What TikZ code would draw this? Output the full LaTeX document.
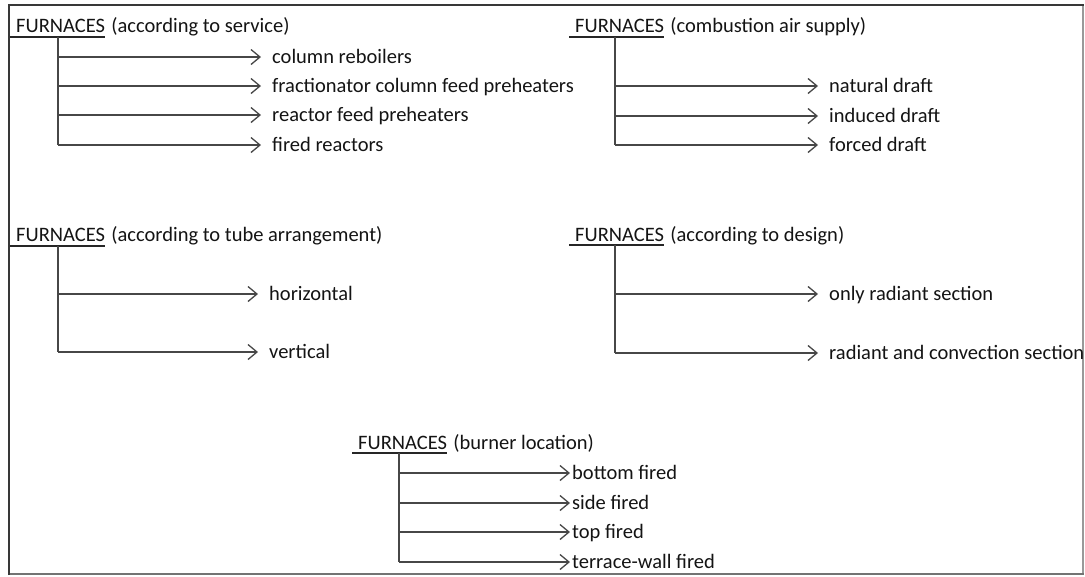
\documentclass[tikz,border=0pt]{standalone}
\usepackage{fontspec}
\setmainfont{Carlito}
\usetikzlibrary{arrows.meta,calc}
\begin{document}
\begin{tikzpicture}[x=1pt,y=-1pt,
  txt/.style={font=\fontsize{20.5}{24}\selectfont, text=black!92},
  head/.style={txt, anchor=base west, inner sep=0pt},
  item/.style={txt, anchor=west, inner ysep=0pt, inner xsep=11pt, text height=15pt, text depth=3pt},
  tight/.style={item, inner xsep=2pt},
  uline/.style={line width=1.5pt, black!85},
  stem/.style={line width=1.3pt, black!72},
  arr/.style={stem, -{Straight Barb[length=9pt,width=15pt,line width=1.3pt]}},
  edgeA/.style={line width=2pt, black!78},
  edgeB/.style={line width=1.6pt, black!40},
  edgeC/.style={line width=2pt, black!55}
]
\useasboundingbox (0,0) rectangle (1085,576);
\fill[white] (0,0) rectangle (1085,576);

% outer frame
\draw[edgeB] (1083,5) -- (1083,574);
\draw[edgeC] (9,574) -- (1084,574);
\draw[edgeA] (9,575) -- (9,5) -- (1084,5);

% classification according to service
\node[head] (h1) at (16,32) {FURNACES};
\node[head] (t1) at ($(h1.base east)+(6,0)$) {(according to service)};
\coordinate (s1) at (58,37);
\draw[uline] ($(h1.base west |- s1)+(-6,0)$) -- (h1.base east |- s1);
\node[item] (a1) at (261,57) {column reboilers};
\node[item] (a2) at (261,86) {fractionator column feed preheaters};
\node[item] (a3) at (261,115) {reactor feed preheaters};
\node[item] (a4) at (261,145) {fired reactors};
\draw[stem] (s1) -- (s1 |- a4.west);
\foreach \n in {a1,a2,a3,a4} \draw[arr] (s1 |- \n.west) -- (\n.west);

% classification by combustion air supply
\node[head] (h2) at (575,32) {FURNACES};
\node[head] (t2) at ($(h2.base east)+(6,0)$) {(combustion air supply)};
\coordinate (s2) at (615,37);
\draw[uline] ($(h2.base west |- s2)+(-6,0)$) -- (h2.base east |- s2);
\node[item] (b1) at (818,86) {natural draft};
\node[item] (b2) at (818,116) {induced draft};
\node[item] (b3) at (818,145) {forced draft};
\draw[stem] (s2) -- (s2 |- b3.west);
\foreach \n in {b1,b2,b3} \draw[arr] (s2 |- \n.west) -- (\n.west);

% classification according to tube arrangement
\node[head] (h3) at (16,241) {FURNACES};
\node[head] (t3) at ($(h3.base east)+(6,0)$) {(according to tube arrangement)};
\coordinate (s3) at (58,246);
\draw[uline] ($(h3.base west |- s3)+(-6,0)$) -- (h3.base east |- s3);
\node[item] (c1) at (258,294) {horizontal};
\node[item] (c2) at (258,352) {vertical};
\draw[stem] (s3) -- (s3 |- c2.west);
\foreach \n in {c1,c2} \draw[arr] (s3 |- \n.west) -- (\n.west);

% classification according to design
\node[head] (h4) at (575,241) {FURNACES};
\node[head] (t4) at ($(h4.base east)+(6,0)$) {(according to design)};
\coordinate (s4) at (615,245);
\draw[uline] ($(h4.base west |- s4)+(-6,0)$) -- (h4.base east |- s4);
\node[item] (d1) at (818,294) {only radiant section};
\node[item] (d2) at (818,353) {radiant and convection section};
\draw[stem] (s4) -- (s4 |- d2.west);
\foreach \n in {d1,d2} \draw[arr] (s4 |- \n.west) -- (\n.west);

% classification by burner location
\node[head] (h5) at (358,449) {FURNACES};
\node[head] (t5) at ($(h5.base east)+(6,0)$) {(burner location)};
\coordinate (s5) at (399,453);
\draw[uline] ($(h5.base west |- s5)+(-6,0)$) -- (h5.base east |- s5);
\node[tight] (e1) at (570,473) {bottom fired};
\node[tight] (e2) at (570,503) {side fired};
\node[tight] (e3) at (570,532) {top fired};
\node[tight] (e4) at (570,562) {terrace-wall fired};
\draw[stem] (s5) -- (s5 |- e4.west);
\foreach \n in {e1,e2,e3,e4} \draw[arr] (s5 |- \n.west) -- (\n.west);
\end{tikzpicture}
\end{document}
